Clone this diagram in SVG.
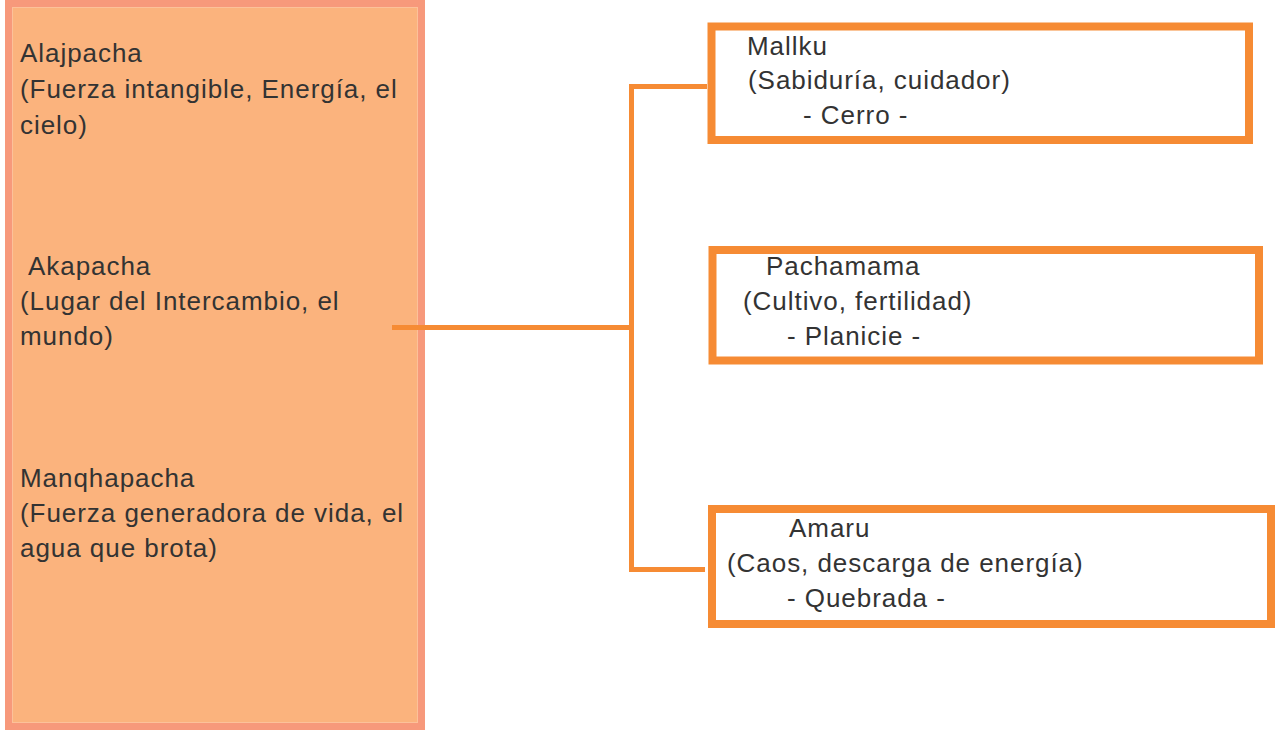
<svg xmlns="http://www.w3.org/2000/svg" width="1275" height="730" viewBox="0 0 1275 730">
<style>
.t{font-family:"Liberation Sans",Arial,sans-serif;font-size:26px;letter-spacing:0.95px;fill:#333;}
.box{fill:#fff;stroke:#F68B34;stroke-width:8;}
.c{fill:none;stroke:#F68B34;stroke-width:5;}
</style>
<rect width="1275" height="730" fill="#fff"/>
<g id="panel">
<rect x="8.5" y="3.5" width="413" height="723" fill="#FBB37D" stroke="#F7997B" stroke-width="7"/>
<rect x="12.5" y="7.5" width="405" height="715" fill="none" stroke="#FCC19A" stroke-width="1"/>
<text class="t" x="20" y="62">Alajpacha</text>
<text class="t" x="20" y="98">(Fuerza intangible, Energía, el</text>
<text class="t" x="20" y="134">cielo)</text>
<text class="t" x="28" y="275">Akapacha</text>
<text class="t" x="20" y="310">(Lugar del Intercambio, el</text>
<text class="t" x="20" y="345">mundo)</text>
<text class="t" x="20" y="487">Manqhapacha</text>
<text class="t" x="20" y="522">(Fuerza generadora de vida, el</text>
<text class="t" x="20" y="557">agua que brota)</text>
</g>
<g id="connectors">
<line class="c" x1="392" y1="327.5" x2="631.5" y2="327.5"/>
<polyline class="c" points="707,86.5 631.5,86.5 631.5,569.5 705,569.5"/>
</g>
<g id="mallku">
<rect class="box" x="711.5" y="26.5" width="537.5" height="113.5"/>
<text class="t" x="747" y="55">Mallku</text>
<text class="t" x="748" y="89">(Sabiduría, cuidador)</text>
<text class="t" x="803" y="124">- Cerro -</text>
</g>
<g id="pachamama">
<rect class="box" x="712.5" y="250" width="546.5" height="110.5"/>
<text class="t" x="766" y="275">Pachamama</text>
<text class="t" x="743" y="310">(Cultivo, fertilidad)</text>
<text class="t" x="787" y="345">- Planicie -</text>
</g>
<g id="amaru">
<rect class="box" x="712" y="509" width="559" height="115"/>
<text class="t" x="789" y="537">Amaru</text>
<text class="t" x="727" y="572">(Caos, descarga de energía)</text>
<text class="t" x="787" y="607">- Quebrada -</text>
</g>
</svg>
